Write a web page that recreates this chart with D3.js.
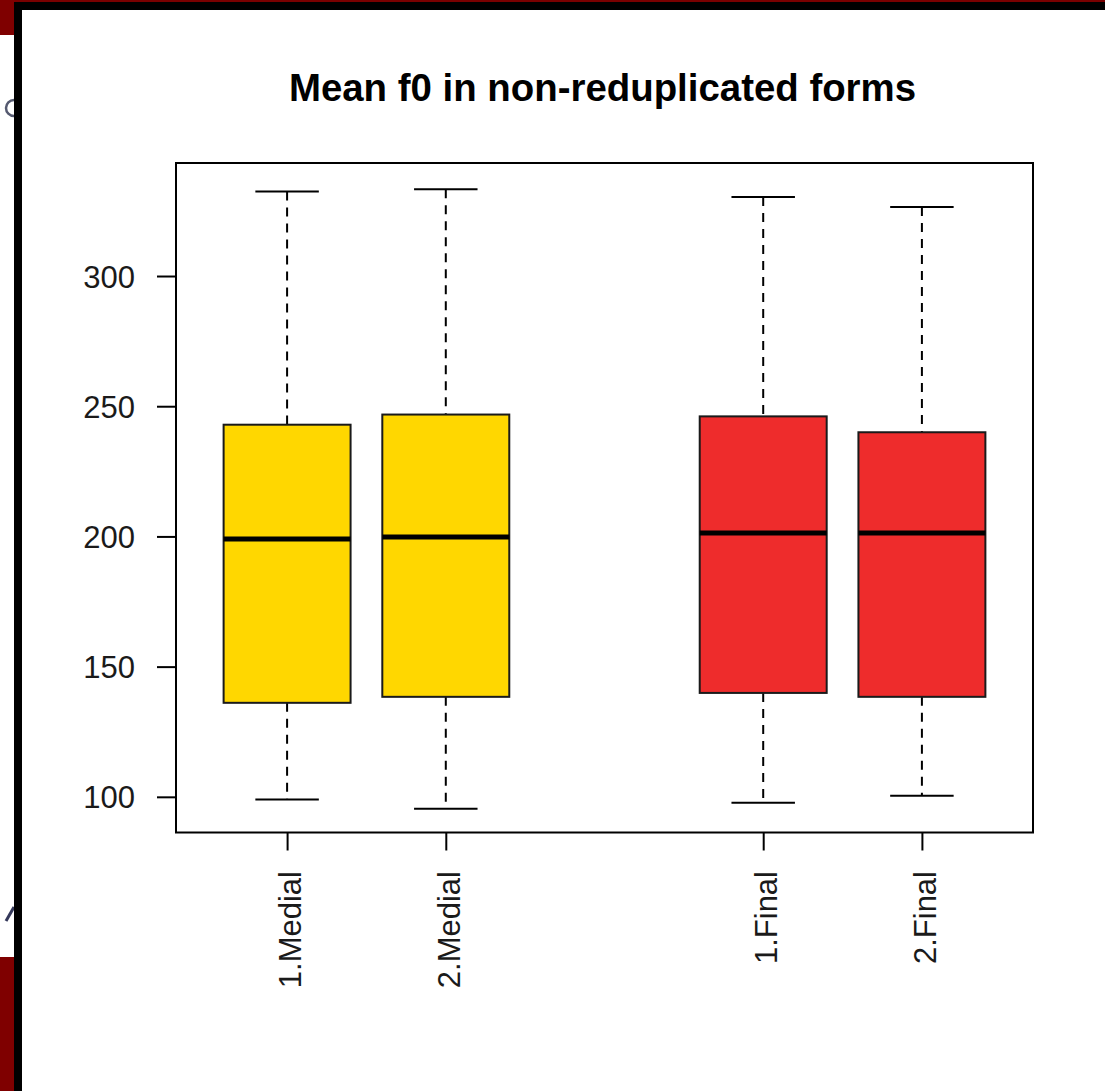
<!DOCTYPE html>
<html>
<head>
<meta charset="utf-8">
<script src="https://cdn.jsdelivr.net/npm/d3@7"></script>
<style>
  html, body { margin: 0; padding: 0; background: #ffffff; }
  svg { display: block; }
  text { font-family: "Liberation Sans", Arial, Helvetica, sans-serif; }
</style>
</head>
<body>
<svg id="chart" width="1105" height="1091"></svg>
<script>
// ---------- data ----------
const categories = ["1.Medial", "2.Medial", "1.Final", "2.Final"];
const positions  = [1, 2, 4, 5];
const groupOf    = ["Medial", "Medial", "Final", "Final"];
const whiskerLow  = [99.0, 95.4, 97.7, 100.4];
const quartile1   = [136.1, 138.4, 139.9, 138.4];
const medians     = [199.0, 199.8, 201.3, 201.3];
const quartile3   = [242.9, 246.8, 246.1, 240.0];
const whiskerHigh = [332.5, 333.3, 330.3, 326.5];
const yTicks = [100, 150, 200, 250, 300];
const titleText = "Mean f0 in non-reduplicated forms";
const colorOf = { Medial: "#FFD700", Final: "#EE2C2C" };

// ---------- layout ----------
const svg = d3.select("#chart");
const W = 1105, H = 1091;
const plot = { left: 176, right: 1033, top: 163, bottom: 832.5 };

// background frame artefacts (screenshot surroundings)
svg.append("rect").attr("x", 0).attr("y", 0).attr("width", W).attr("height", H).attr("fill", "#ffffff");
svg.append("rect").attr("x", 0).attr("y", 0).attr("width", W).attr("height", 3).attr("fill", "#7a0000");
svg.append("rect").attr("x", 0).attr("y", 0).attr("width", 15).attr("height", 35).attr("fill", "#7f0000");
svg.append("rect").attr("x", 0).attr("y", 957).attr("width", 15).attr("height", H - 957).attr("fill", "#7f0000");
// clipped glyph fragments at the left edge (drawn as shapes)
svg.append("path").attr("d", "M 14 100 A 8 8 0 1 0 14 116")
  .attr("fill", "none").attr("stroke", "#555a70").attr("stroke-width", 2.5);
svg.append("path").attr("d", "M 6 921 L 14 907")
  .attr("fill", "none").attr("stroke", "#34385a").attr("stroke-width", 3);
svg.append("rect").attr("x", 14).attr("y", 2).attr("width", W - 14).attr("height", 8).attr("fill", "#000000");
svg.append("rect").attr("x", 14).attr("y", 2).attr("width", 8).attr("height", H - 2).attr("fill", "#000000");

// ---------- scales ----------
const x = d3.scaleLinear().domain([0.3, 5.7]).range([plot.left, plot.right]);
const y = d3.scaleLinear().domain([86.3, 343.4]).range([plot.bottom, plot.top]);
const boxW = x(0.8) - x(0);
const capW = boxW / 2;

const data = categories.map((c, i) => ({
  name: c, pos: positions[i], group: groupOf[i],
  lo: whiskerLow[i], q1: quartile1[i], med: medians[i], q3: quartile3[i], hi: whiskerHigh[i]
}));

// ---------- title ----------
svg.append("text")
  .attr("x", (plot.left + plot.right) / 2 - 2)
  .attr("y", 101)
  .attr("text-anchor", "middle")
  .attr("font-size", 38.4)
  .attr("font-weight", "bold")
  .attr("fill", "#000")
  .text(titleText);

// ---------- boxes ----------
const g = svg.append("g");
const box = g.selectAll("g.box").data(data).enter().append("g").attr("class", "box");

// whiskers (dashed)
box.append("line")
  .attr("x1", d => x(d.pos)).attr("x2", d => x(d.pos))
  .attr("y1", d => y(d.hi)).attr("y2", d => y(d.q3))
  .attr("stroke", "#000").attr("stroke-width", 2).attr("stroke-dasharray", "9,7");
box.append("line")
  .attr("x1", d => x(d.pos)).attr("x2", d => x(d.pos))
  .attr("y1", d => y(d.q1)).attr("y2", d => y(d.lo))
  .attr("stroke", "#000").attr("stroke-width", 2).attr("stroke-dasharray", "9,7");
// caps
box.append("line")
  .attr("x1", d => x(d.pos) - capW / 2).attr("x2", d => x(d.pos) + capW / 2)
  .attr("y1", d => y(d.hi)).attr("y2", d => y(d.hi))
  .attr("stroke", "#000").attr("stroke-width", 2);
box.append("line")
  .attr("x1", d => x(d.pos) - capW / 2).attr("x2", d => x(d.pos) + capW / 2)
  .attr("y1", d => y(d.lo)).attr("y2", d => y(d.lo))
  .attr("stroke", "#000").attr("stroke-width", 2);
// box rect
box.append("rect")
  .attr("x", d => x(d.pos) - boxW / 2)
  .attr("width", boxW)
  .attr("y", d => y(d.q3))
  .attr("height", d => y(d.q1) - y(d.q3))
  .attr("fill", d => colorOf[d.group])
  .attr("stroke", "#1a1a1a").attr("stroke-width", 2);
// median
box.append("line")
  .attr("x1", d => x(d.pos) - boxW / 2).attr("x2", d => x(d.pos) + boxW / 2)
  .attr("y1", d => y(d.med)).attr("y2", d => y(d.med))
  .attr("stroke", "#000").attr("stroke-width", 5);

// ---------- frame ----------
svg.append("rect")
  .attr("x", plot.left).attr("y", plot.top)
  .attr("width", plot.right - plot.left).attr("height", plot.bottom - plot.top)
  .attr("fill", "none").attr("stroke", "#000").attr("stroke-width", 2);

// ---------- y axis ----------
const yAxis = svg.append("g")
  .attr("transform", `translate(${plot.left},0)`)
  .call(d3.axisLeft(y).tickValues(yTicks).tickSize(19).tickSizeOuter(0).tickPadding(22));
yAxis.select(".domain").remove();
yAxis.selectAll(".tick line").attr("stroke", "#000").attr("stroke-width", 2);
yAxis.selectAll(".tick text")
  .attr("font-size", 31)
  .attr("fill", "#1a1a1a")
  .attr("font-family", "'Liberation Sans', Arial, sans-serif")
  .attr("dy", "0.36em");

// ---------- x axis ----------
const xAxis = svg.append("g")
  .attr("transform", `translate(0,${plot.bottom})`)
  .call(d3.axisBottom(x).tickValues(positions).tickSize(18).tickSizeOuter(0).tickFormat(() => ""));
xAxis.select(".domain").remove();
xAxis.selectAll(".tick line").attr("stroke", "#000").attr("stroke-width", 2);

svg.append("g").selectAll("text.xl").data(data).enter().append("text")
  .attr("class", "xl")
  .attr("transform", d => `translate(${x(d.pos) + 14},${871}) rotate(-90)`)
  .attr("text-anchor", "end")
  .attr("font-size", 31)
  .attr("fill", "#1a1a1a")
  .text(d => d.name);
</script>
</body>
</html>
